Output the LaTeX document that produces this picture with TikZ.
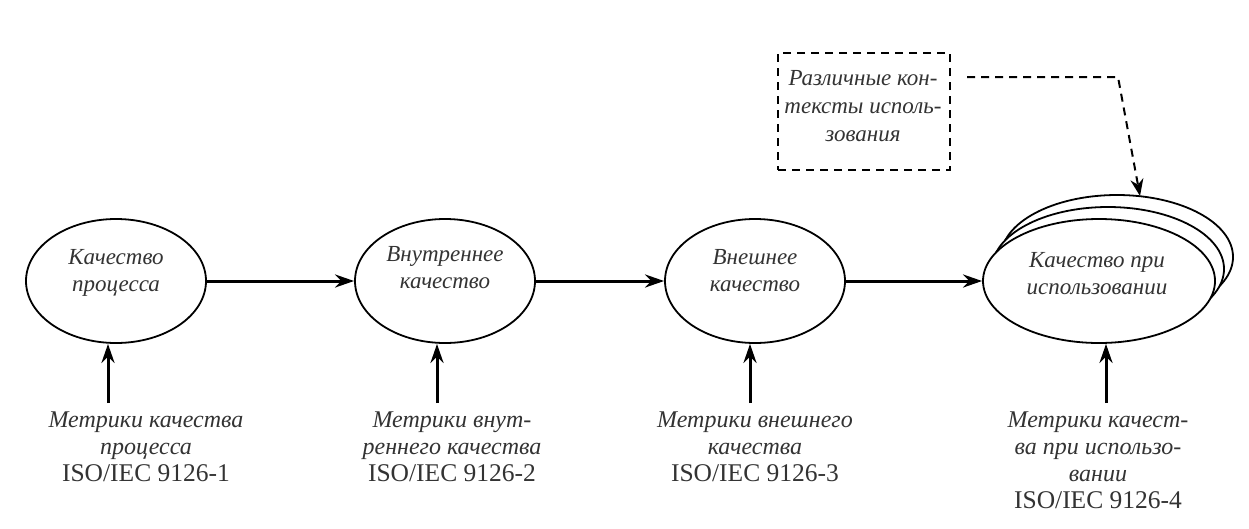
\documentclass[tikz,border=0pt]{standalone}
\usepackage{fontspec}
\setmainfont{Liberation Serif}
\usetikzlibrary{shapes.geometric,arrows.meta}
\newcommand\isofont{\fontsize{25.5}{27}\selectfont\upshape}
\begin{document}
\begin{tikzpicture}[x=1pt,y=-1pt,
  qual/.style={draw, ellipse, line width=1.8pt, minimum width=180pt, minimum height=124pt, inner sep=0pt, fill=white},
  bigqual/.style={qual, minimum width=232pt},
  qtext/.style={align=center, inner sep=0pt, font=\fontsize{23}{27}\selectfont\itshape, text=black!80},
  mtext/.style={align=center, inner sep=0pt, anchor=north, font=\fontsize{24}{27}\selectfont\itshape, text=black!80},
  ctext/.style={align=center, inner sep=0pt, font=\fontsize{23}{28}\selectfont\itshape, text=black!80},
  flow/.style={line width=3pt, -{Stealth[length=19pt,width=13pt]}},
  dbox/.style={draw, line width=2pt, dash pattern=on 8pt off 6pt, minimum width=172pt, minimum height=117pt, inner sep=0pt},
  dflow/.style={line width=2pt, dash pattern=on 8pt off 6pt, -{Stealth[length=17pt,width=13pt]}}
]
\useasboundingbox (0,0) rectangle (1249,528);

% ellipses
\node[qual] (e1) at (116,281) {};
\node[qual] (e2) at (445,281) {};
\node[qual] (e3) at (755,281) {};
\node[bigqual] (e4c) at (1117,257) {};
\node[bigqual] (e4b) at (1108,269) {};
\node[bigqual] (e4) at (1099,281) {};

\node[qtext] (l1) at (116,273) {Качество\\процесса};
\node[qtext] (l2) at (445,268) {Внутреннее\\качество};
\node[qtext] (l3) at (755,271) {Внешнее\\качество};
\node[qtext] (l4) at (1097,274) {Качество при\\использовании};

% flow arrows
\draw[flow] (e1) -- (e2);
\draw[flow] (e2) -- (e3);
\draw[flow] (e3) -- (e4);

% metric arrows
\coordinate (m1) at (108,403);
\coordinate (m2) at (437,403);
\coordinate (m3) at (750,403);
\coordinate (m4) at (1106,403);
\draw[flow] (m1) -- (m1 |- e1.south);
\draw[flow] (m2) -- (m2 |- e2.south);
\draw[flow] (m3) -- (m3 |- e3.south);
\draw[flow] (m4) -- (m4 |- e4.south);

% metric texts
\node[mtext] (t1) at (146,412) {Метрики качества\\процесса\\{\isofont ISO/IEC 9126-1}};
\node[mtext] (t2) at (452,412) {Метрики внут-\\реннего качества\\{\isofont ISO/IEC 9126-2}};
\node[mtext] (t3) at (755,412) {Метрики внешнего\\качества\\{\isofont ISO/IEC 9126-3}};
\node[mtext] (t4) at (1098,412) {Метрики качест-\\ва при использо-\\вании\\{\isofont ISO/IEC 9126-4}};

% contexts box
\node[dbox] (ctx) at (864,111.5) {};
\node[ctext] (ctxt) at (863,106) {Различные кон-\\тексты исполь-\\зования};
\coordinate (ds) at (967,77);
\coordinate (db) at (1118,77);
\coordinate (dt) at (1140,196);
\draw[dflow] (ds) -- (db) -- (dt);
\end{tikzpicture}
\end{document}
